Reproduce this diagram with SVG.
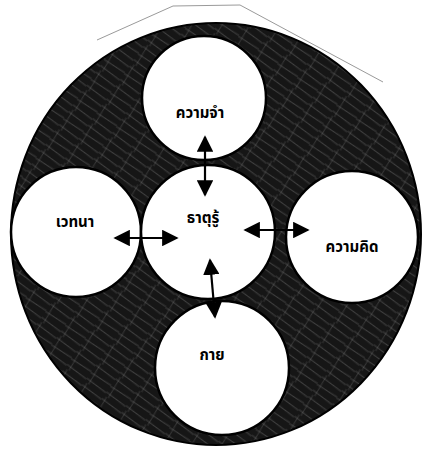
<svg xmlns="http://www.w3.org/2000/svg" width="426" height="450" viewBox="0 0 426 450">
  <style>
    .node { fill: #ffffff; stroke: #000000; stroke-width: 2.5; }
    .label { font-family: "Noto Sans Thai", "Noto Sans", "DejaVu Sans", sans-serif; font-size: 15px; font-weight: bold; fill: #000000; text-anchor: middle; }
    .conn { stroke: #000000; stroke-width: 2.2; fill: none; marker-start: url(#head); marker-end: url(#head); }
  </style>
  <defs>
    <marker id="head" viewBox="0 0 10 10" refX="9" refY="5" markerWidth="7.5" markerHeight="7.5" orient="auto-start-reverse" markerUnits="strokeWidth">
      <path d="M0,0 L10,5 L0,10 z" fill="#000000"/>
    </marker>
    <pattern id="scribble" width="24" height="24" patternUnits="userSpaceOnUse" patternTransform="rotate(35)">
      <rect width="24" height="24" fill="#161616"/>
      <path d="M0,4 L24,5 M0,13 L24,12 M0,20 L24,21" stroke="#707070" stroke-width="0.8" opacity="0.6"/>
      <path d="M3,0 L5,24" stroke="#d0d0d0" stroke-width="0.5" opacity="0.35"/>
    </pattern>
  </defs>
  <rect width="426" height="450" fill="#ffffff"/>
  <path d="M97,40 L173,6 L240,5 L383,82" fill="none" stroke="#9a9a9a" stroke-width="1"/>
  <g id="background">
    <ellipse cx="216" cy="234" rx="205" ry="211" fill="url(#scribble)" stroke="#000000" stroke-width="2"/>
  </g>
  <g id="node-memory">
    <circle class="node" cx="204" cy="98" r="62"/>
    <text class="label" x="200" y="118">ความจำ</text>
  </g>
  <g id="node-feeling">
    <circle class="node" cx="76" cy="232" r="65"/>
    <text class="label" x="75" y="227">เวทนา</text>
  </g>
  <g id="node-center">
    <circle class="node" cx="208" cy="232" r="67"/>
    <text class="label" x="203" y="223">ธาตุรู้</text>
  </g>
  <g id="node-thought">
    <circle class="node" cx="352" cy="237" r="66"/>
    <text class="label" x="352" y="252">ความคิด</text>
  </g>
  <g id="node-body">
    <circle class="node" cx="222" cy="368" r="67"/>
    <text class="label" x="212" y="360">กาย</text>
  </g>
  <g id="connectors">
    <line class="conn" x1="205" y1="137" x2="205" y2="195"/>
    <line class="conn" x1="115" y1="238" x2="177" y2="238"/>
    <line class="conn" x1="245" y1="230" x2="308" y2="230"/>
    <line class="conn" x1="210" y1="260" x2="215" y2="317"/>
  </g>
</svg>
